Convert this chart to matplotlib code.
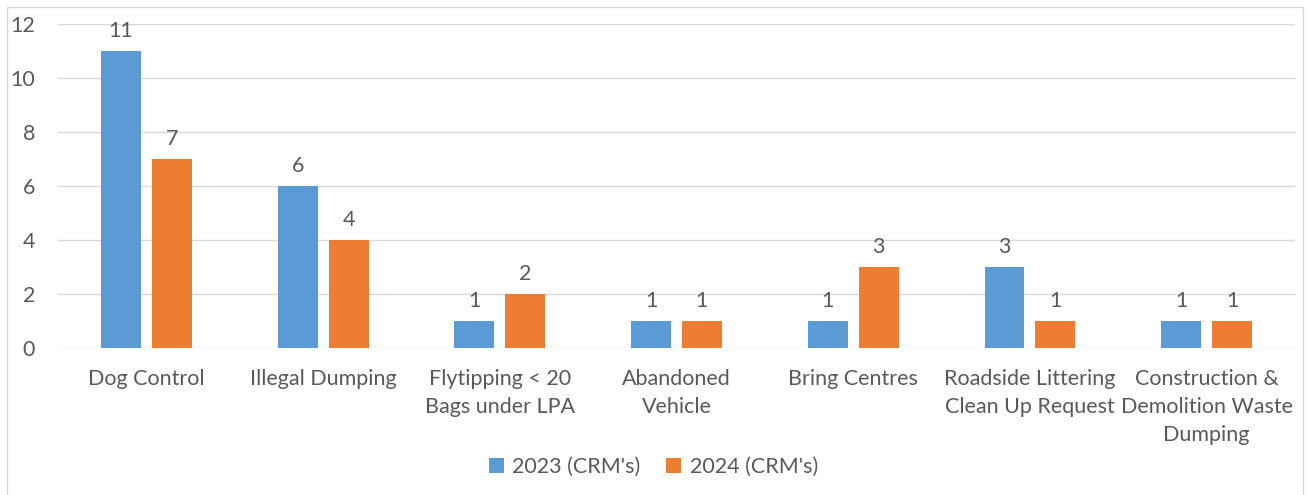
import matplotlib.pyplot as plt
import numpy as np
from matplotlib.patches import Rectangle

categories = ["Dog Control", "Illegal Dumping", "Flytipping < 20\nBags under LPA",
              "Abandoned\nVehicle", "Bring Centres", "Roadside Littering\nClean Up Request",
              "Construction &\nDemolition Waste\nDumping"]
y2023 = [11, 6, 1, 1, 1, 3, 1]
y2024 = [7, 4, 2, 1, 3, 1, 1]
labels = ["2023 (CRM's)", "2024 (CRM's)"]

plt.rcParams['font.family'] = ['Lato', 'DejaVu Sans']
txt = '#595959'
fs = 15.5

fig = plt.figure(figsize=(13.07, 4.95), dpi=100)
ax = fig.add_axes([0.0444, 0.297, 0.9464, 0.6545])
fig.patches.append(Rectangle((7 / 1307, -0.1), 1296 / 1307, 1.1 - 7 / 495, transform=fig.transFigure,
                             fill=False, edgecolor='#d9d9d9', linewidth=1))

x = np.arange(len(categories))
w = 0.226
off = 0.144
b1 = ax.bar(x - off, y2023, w, color='#5B9BD5', label=labels[0])
b2 = ax.bar(x + off, y2024, w, color='#ED7D31', label=labels[1])
for bars in (b1, b2):
    ax.bar_label(bars, padding=7, fontsize=fs, color=txt)

ax.set_xlim(-0.5, len(categories) - 0.5)
ax.set_ylim(0, 12)
ax.set_yticks(range(0, 13, 2))
ax.yaxis.grid(True, color='#d9d9d9', linewidth=1)
ax.set_axisbelow(True)
for s in ax.spines.values():
    s.set_visible(False)
ax.tick_params(axis='both', length=0, labelsize=fs, colors=txt)
ax.tick_params(axis='y', pad=16.5)
ax.tick_params(axis='x', pad=15)
ax.set_xticks(x)
ax.set_xticklabels(categories, linespacing=1.5)

fig.legend(loc='center', bbox_to_anchor=(0.5, 0.056), ncol=2, frameon=False,
           fontsize=fs, labelcolor=txt, handlelength=0.7, handleheight=0.7,
           columnspacing=1.2, handletextpad=0.4)

fig.savefig('out.png', dpi=100)
